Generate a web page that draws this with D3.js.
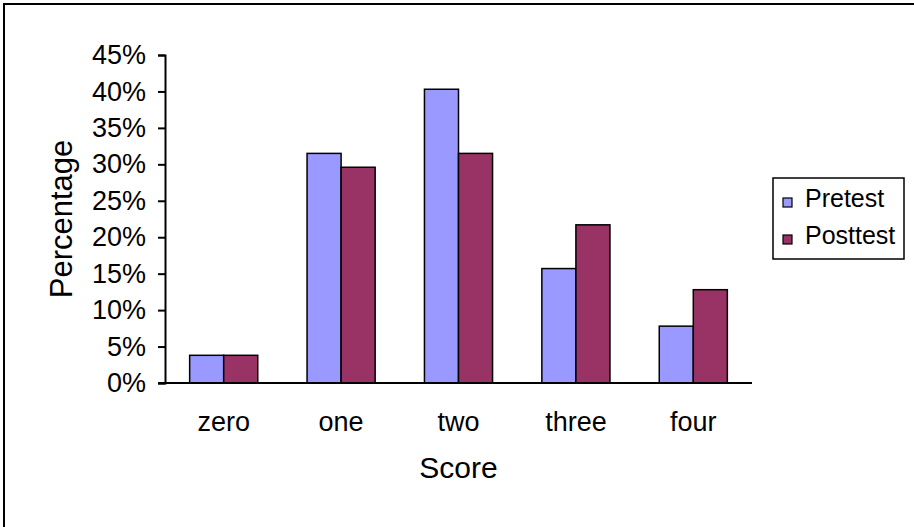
<!DOCTYPE html>
<html>
<head>
<meta charset="utf-8">
<script src="https://cdn.jsdelivr.net/npm/d3@7/dist/d3.min.js"></script>
<style>
  html, body { margin: 0; padding: 0; background: #fff; }
  svg { display: block; font-family: "Liberation Sans", Arial, sans-serif; }
</style>
</head>
<body>
<svg id="chart" width="914" height="527"></svg>
<script>
// Score distribution, pretest vs posttest (share of students)
const categories = ["zero", "one", "two", "three", "four"];
const seriesNames = ["Pretest", "Posttest"];
const pretest  = [0.038, 0.315, 0.403, 0.157, 0.078];
const posttest = [0.038, 0.296, 0.315, 0.217, 0.128];
const yTicks = [0, 0.05, 0.10, 0.15, 0.20, 0.25, 0.30, 0.35, 0.40, 0.45];
const colors = ["#9999FF", "#993366"];

const svg = d3.select("#chart");

// outer chart frame (only top and left edges fall inside the page)
svg.append("rect")
  .attr("x", 4).attr("y", 4)
  .attr("width", 1000).attr("height", 1000)
  .attr("fill", "none").attr("stroke", "#000").attr("stroke-width", 2);

const plot = { left: 165, right: 752, top: 55, bottom: 383 };

const x = d3.scaleBand()
  .domain(categories)
  .range([plot.left, plot.right])
  .paddingInner(0.42)
  .paddingOuter(0.21);

const xs = d3.scaleBand()
  .domain(seriesNames)
  .range([0, x.bandwidth()]);

const y = d3.scaleLinear().domain([0, 0.45]).range([plot.bottom, plot.top]);

const rows = categories.map((c, i) => ({ cat: c, values: [pretest[i], posttest[i]] }));

// bars
const groups = svg.append("g").selectAll("g")
  .data(rows).join("g")
  .attr("transform", d => `translate(${x(d.cat)},0)`);

groups.selectAll("rect")
  .data(d => d.values.map((v, k) => ({ name: seriesNames[k], v, k })))
  .join("rect")
  .attr("x", d => xs(d.name))
  .attr("y", d => y(d.v))
  .attr("width", xs.bandwidth())
  .attr("height", d => y(0) - y(d.v))
  .attr("fill", d => colors[d.k])
  .attr("stroke", "#000")
  .attr("stroke-width", 1.5);

// y axis
const yAxis = svg.append("g")
  .attr("transform", `translate(${plot.left},0)`)
  .call(d3.axisLeft(y).tickValues(yTicks).tickFormat(d3.format(".0%")).tickSize(7).tickPadding(12));
yAxis.select(".domain").attr("stroke", "#000").attr("stroke-width", 2);
yAxis.selectAll(".tick line").attr("stroke", "#000").attr("stroke-width", 2);
yAxis.selectAll(".tick text")
  .attr("font-size", 27).attr("fill", "#000")
  .attr("font-family", "Liberation Sans, Arial, sans-serif");

// x axis baseline and category labels
const xAxis = svg.append("g")
  .attr("transform", `translate(0,${plot.bottom})`)
  .call(d3.axisBottom(x).tickSize(0).tickPadding(29));
xAxis.select(".domain").attr("stroke", "#000").attr("stroke-width", 2)
  .attr("d", `M${plot.left - 7},0H${plot.right}`);
xAxis.selectAll(".tick text")
  .attr("font-size", 27).attr("fill", "#000")
  .attr("font-family", "Liberation Sans, Arial, sans-serif");

// axis titles
svg.append("text")
  .attr("x", (plot.left + plot.right) / 2)
  .attr("y", 478)
  .attr("text-anchor", "middle")
  .attr("font-size", 30)
  .text("Score");

svg.append("text")
  .attr("transform", `translate(72,219) rotate(-90)`)
  .attr("text-anchor", "middle")
  .attr("font-size", 31)
  .text("Percentage");

// legend
const legend = svg.append("g");
legend.append("rect")
  .attr("x", 773).attr("y", 178).attr("width", 131).attr("height", 81)
  .attr("fill", "#fff").attr("stroke", "#000").attr("stroke-width", 1.5);

const items = legend.selectAll("g.item")
  .data(seriesNames).join("g")
  .attr("class", "item")
  .attr("transform", (d, i) => `translate(783,${198 + i * 37})`);
items.append("rect")
  .attr("width", 9).attr("height", 9)
  .attr("fill", (d, i) => colors[i])
  .attr("stroke", "#000").attr("stroke-width", 1.2);
items.append("text")
  .attr("x", 22).attr("y", 9)
  .attr("font-size", 25)
  .text(d => d);
</script>
</body>
</html>
